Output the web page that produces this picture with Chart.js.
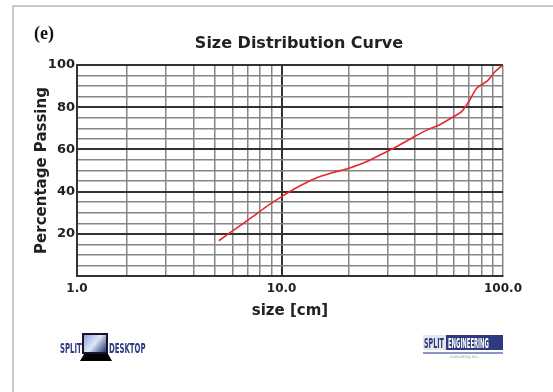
<!DOCTYPE html>
<html>
<head>
<meta charset="utf-8">
<script src="https://cdn.jsdelivr.net/npm/chart.js@4.4.1/dist/chart.umd.min.js"></script>
<style>
  html, body { margin: 0; padding: 0; background: #fff; }
  #wrap { width: 553px; height: 392px; position: relative; }
</style>
</head>
<body>
<div id="wrap"><canvas id="curva"></canvas></div>
<script>
// Datos
const sizes   = [5.2, 6.0, 7.4, 8.5, 10, 12, 14, 17, 20, 24, 29, 34, 40, 46, 52, 60, 65, 70, 76, 85, 92, 100];
const passing = [16.7, 21.4, 28.1, 32.8, 37.6, 42.5, 46.0, 49.0, 51.0, 54.0, 58.3, 62.0, 66.2, 69.5, 71.8, 75.6, 77.9, 82.6, 89.0, 92.5, 96.8, 100];

// la rejilla del original empieza un poco a la derecha de 1.0
const xMin = 1.19;
const xMax = 100;
const xGrid = [xMin, 2, 3, 4, 5, 6, 7, 8, 9, 10, 20, 30, 40, 50, 60, 70, 80, 90, 100];
const xTickValues = [xMin, 10, 100];
const xTickLabels = ["1.0", "10.0", "100.0"];
const yTickLabels = [20, 40, 60, 80, 100];

const FONT = "'DejaVu Sans', Arial, sans-serif";
const NAVY = "#2d3a80";

const decor = {
  id: "decor",
  afterDraw(chart) {
    const ctx = chart.ctx;
    ctx.save();
    // marco
    ctx.strokeStyle = "#b8b8b8";
    ctx.lineWidth = 1.5;
    ctx.beginPath();
    ctx.moveTo(13, 392); ctx.lineTo(13, 6); ctx.lineTo(553, 6);
    ctx.stroke();

    // (e)
    ctx.fillStyle = "#111";
    ctx.font = "bold 18px 'Liberation Serif', 'Times New Roman', serif";
    ctx.textBaseline = "alphabetic";
    ctx.textAlign = "left";
    ctx.fillText("(e)", 34, 39);

    // titulo
    ctx.fillStyle = "#222";
    ctx.font = "bold 16px " + FONT;
    ctx.textAlign = "center";
    ctx.fillText("Size Distribution Curve", 299, 48);

    // logo izquierdo
    ctx.fillStyle = NAVY;
    ctx.font = "bold 14px 'DejaVu Sans Condensed', " + FONT;
    ctx.textAlign = "left";
    ctx.save(); ctx.translate(60, 353); ctx.scale(0.55, 1); ctx.fillText("SPLIT", 0, 0); ctx.restore();
    ctx.save(); ctx.translate(109, 353); ctx.scale(0.55, 1); ctx.fillText("DESKTOP", 0, 0); ctx.restore();
    const g = ctx.createLinearGradient(84, 334, 106, 352);
    g.addColorStop(0, "#8fa0d8");
    g.addColorStop(0.5, "#dfe6f8");
    g.addColorStop(1, "#25306e");
    ctx.fillStyle = "#151530";
    ctx.fillRect(82, 333, 26, 21);
    ctx.fillStyle = g;
    ctx.fillRect(84, 335, 22, 17);
    ctx.fillStyle = "#000";
    ctx.beginPath();
    ctx.moveTo(84, 354); ctx.lineTo(108, 354); ctx.lineTo(112, 361); ctx.lineTo(80, 361);
    ctx.closePath(); ctx.fill();

    // logo derecho
    ctx.fillStyle = "#e4e6ee";
    ctx.fillRect(423, 335, 23, 15);
    ctx.fillStyle = NAVY;
    ctx.save(); ctx.translate(424, 348); ctx.scale(0.5, 1); ctx.fillText("SPLIT", 0, 0); ctx.restore();
    ctx.fillRect(446, 335, 57, 15);
    ctx.fillStyle = "#fff";
    ctx.save(); ctx.translate(448, 348); ctx.scale(0.42, 1); ctx.fillText("ENGINEERING", 0, 0); ctx.restore();
    ctx.fillStyle = "#8c96c4";
    ctx.fillRect(423, 352, 80, 2);
    ctx.fillStyle = "#999";
    ctx.font = "4px " + FONT;
    ctx.fillText("consulting inc.", 450, 358);
    ctx.restore();
  }
};

new Chart(document.getElementById("curva"), {
  type: "line",
  data: {
    datasets: [{
      data: sizes.map((s, i) => ({ x: s, y: passing[i] })),
      borderColor: "#e8282e",
      borderWidth: 1.6,
      pointRadius: 0,
      tension: 0.2,
      fill: false
    }]
  },
  options: {
    responsive: true,
    maintainAspectRatio: false,
    animation: false,
    layout: { padding: { left: 27, top: 65, right: 50, bottom: 71 } },
    plugins: { legend: { display: false }, tooltip: { enabled: false } },
    scales: {
      x: {
        type: "logarithmic",
        min: xMin,
        max: xMax,
        afterBuildTicks: s => { s.ticks = xGrid.map(v => ({ value: v })); },
        afterFit: s => { s.height = 45; },
        border: { display: true, color: "#333", width: 2 },
        grid: {
          drawTicks: false,
          color: c => (c.tick && c.tick.value === 10) ? "#333" : "#858585",
          lineWidth: c => (c.tick && c.tick.value === 10) ? 2 : 1.5
        },
        ticks: {
          autoSkip: false,
          maxRotation: 0,
          padding: 6,
          color: "#222",
          font: { family: FONT, size: 12, weight: "bold" },
          callback: v => {
            const i = xTickValues.indexOf(v);
            return i >= 0 ? xTickLabels[i] : "";
          }
        },
        title: {
          display: true,
          text: "size [cm]",
          color: "#222",
          font: { family: FONT, size: 15, weight: "bold" },
          padding: { top: 0, bottom: 1 }
        }
      },
      y: {
        min: 0,
        max: 100,
        afterFit: s => { s.width = 50; },
        border: { display: true, color: "#333", width: 2 },
        grid: {
          drawTicks: false,
          color: c => (c.tick && c.tick.value % 20 === 0) ? "#333" : "#858585",
          lineWidth: c => (c.tick && c.tick.value % 20 === 0) ? 2 : 1.5
        },
        ticks: {
          stepSize: 5,
          autoSkip: false,
          padding: 2,
          color: "#222",
          font: { family: FONT, size: 13, weight: "bold" },
          callback: v => yTickLabels.includes(v) ? String(v) : ""
        },
        title: {
          display: true,
          text: "Percentage Passing",
          color: "#222",
          font: { family: FONT, size: 15, weight: "bold" },
          padding: { top: 6, bottom: 0 }
        }
      }
    }
  },
  plugins: [decor]
});
</script>
</body>
</html>
